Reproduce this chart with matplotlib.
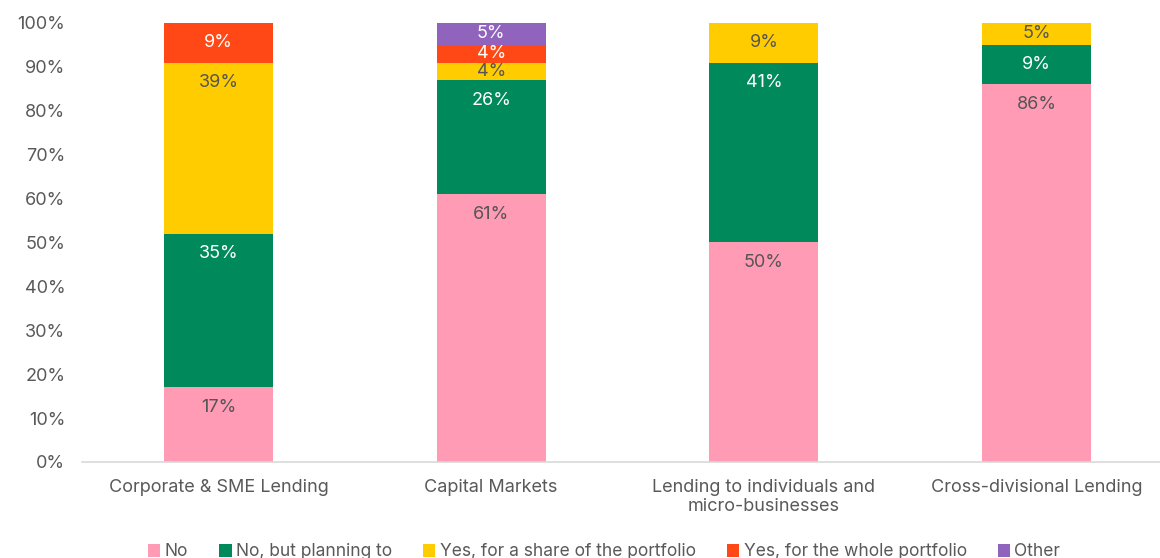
import numpy as np
import matplotlib.pyplot as plt

plt.rcParams['font.family'] = ['Inter', 'DejaVu Sans']

categories = ["Corporate & SME Lending", "Capital Markets",
              "Lending to individuals and\nmicro-businesses", "Cross-divisional Lending"]
series = ["No", "No, but planning to", "Yes, for a share of the portfolio",
          "Yes, for the whole portfolio", "Other"]
no_ = [17, 61, 50, 86]
planning = [35, 26, 41, 9]
share = [39, 4, 9, 5]
whole = [9, 4, 0, 0]
other = [0, 5, 0, 0]

colors = ["#FF9BB4", "#008A5B", "#FFCC00", "#FF4815", "#9063BD"]
label_colors = ["#555555", "white", "#555555", "white", "white"]
grey = "#595959"

fig = plt.figure(figsize=(11.6, 5.58), dpi=100)
ax = fig.add_axes([82/1160, 96/558, 1078/1160, 439/558])

x = np.arange(len(categories))
bottom = np.zeros(len(categories))
for vals, name, c, lc in zip([no_, planning, share, whole, other], series, colors, label_colors):
    vals = np.array(vals, dtype=float)
    ax.bar(x, vals, 0.4, bottom=bottom, color=c, label=name, zorder=2)
    for xi, b, v in zip(x, bottom, vals):
        if v > 0:
            # labels sit near the top of each segment
            y = b + v - min(4.6, v / 2)
            ax.text(xi, y, f"{v:.0f}%", ha="center", va="center",
                    color=lc, fontsize=13)
    bottom += vals

ax.set_xlim(-0.5, 3.452)
ax.set_ylim(0, 100)
ax.set_yticks(np.arange(0, 101, 10))
ax.set_yticklabels([f"{t}%" for t in range(0, 101, 10)])
ax.set_xticks(x)
ax.set_xticklabels(categories, linespacing=1.2)
ax.tick_params(axis="both", length=0, colors=grey, labelsize=13)
ax.tick_params(axis="y", pad=12)
ax.tick_params(axis="x", pad=12)
for s in ["top", "right", "left"]:
    ax.spines[s].set_visible(False)
ax.spines["bottom"].set_color("#D9D9D9")
ax.spines["bottom"].set_linewidth(1.2)

leg = fig.legend(loc="center", bbox_to_anchor=(0.521, 6/558), ncol=5, frameon=False,
                 fontsize=12.5, handlelength=0.7, handleheight=0.7, handletextpad=0.25,
                 columnspacing=1.8)
for t in leg.get_texts():
    t.set_color(grey)

fig.savefig("out.png", dpi=100)
